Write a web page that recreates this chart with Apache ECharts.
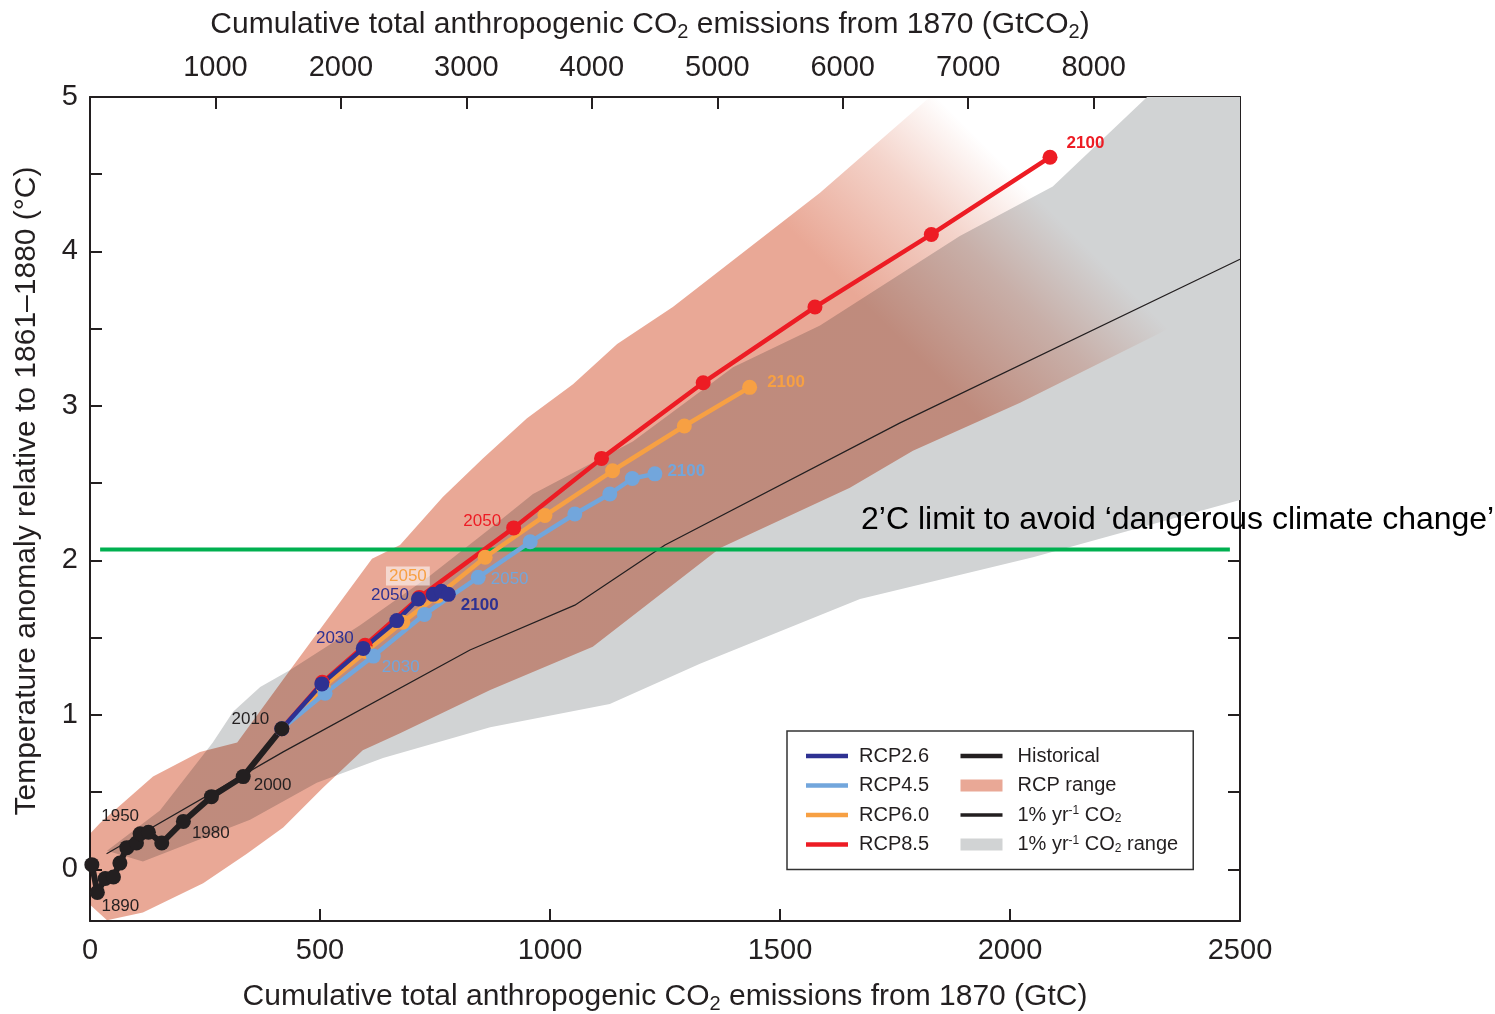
<!DOCTYPE html>
<html>
<head>
<meta charset="utf-8">
<title>Cumulative CO2 emissions and warming</title>
<script src="https://cdn.jsdelivr.net/npm/echarts@6/dist/echarts.min.js"></script>
<style>
html, body { margin: 0; padding: 0; background: #fff; }
#chart { width: 1495px; height: 1014px; }
</style>
</head>
<body>
<div id="chart"></div>
<script>
// ---- data (x: cumulative GtC, t: warming in °C) ----
var histX = [4, 16, 33, 51, 65, 80, 101, 109, 127, 156, 203, 264, 333, 417];
var histT = [0.03, -0.15, -0.06, -0.05, 0.04, 0.14, 0.17, 0.23, 0.24, 0.17, 0.31, 0.47, 0.60, 0.91];
var histTags = ['', '1890', '', '', '', '', '', '1950', '', '', '1980', '', '2000', '2010'];

var rcp26X = [417, 504, 594, 667, 714, 746, 764, 779];
var rcp26T = [0.91, 1.20, 1.43, 1.61, 1.75, 1.78, 1.80, 1.78];
var rcp26Tags = ['', '', '2030', '', '2050', '', '', '2100'];

var rcp45X = [417, 511, 616, 727, 844, 957, 1054, 1130, 1179, 1228];
var rcp45T = [0.91, 1.14, 1.38, 1.65, 1.89, 2.12, 2.30, 2.43, 2.53, 2.56];
var rcp45Tags = ['', '', '2030', '', '2050', '', '', '', '', '2100'];

var rcp60X = [417, 507, 600, 680, 755, 859, 989, 1136, 1292, 1434];
var rcp60T = [0.91, 1.18, 1.41, 1.60, 1.77, 2.02, 2.29, 2.58, 2.87, 3.12];
var rcp60Tags = ['', '', '', '', '2050', '', '', '', '', '2100'];

var rcp85X = [417, 505, 598, 716, 921, 1112, 1333, 1576, 1829, 2087];
var rcp85T = [0.91, 1.21, 1.45, 1.76, 2.21, 2.66, 3.15, 3.64, 4.11, 4.61];
var rcp85Tags = ['', '', '', '', '2050', '', '', '', '', '2100'];

// 1% per year CO2 runs, median
var pctX = [36, 420, 826, 1054, 1250, 1761, 2500];
var pctT = [0.10, 0.76, 1.42, 1.71, 2.10, 2.89, 3.95];

// envelope outlines (upper edge left->right, then lower edge right->left)
var rcpRangeX = [0, 22, 137, 239, 320, 435, 613, 674, 767, 854, 950, 1050, 1146, 1267, 1587, 1826, 2000,
                 2428, 2311, 2022, 1789, 1652, 1370, 1093, 870, 674, 593, 507, 420, 341, 246, 115, 37, 0];
var rcpRangeT = [0.23, 0.30, 0.60, 0.76, 0.82, 1.29, 2.01, 2.10, 2.41, 2.66, 2.92, 3.14, 3.40, 3.64, 4.38, 5.0, 5.0,
                 3.63, 3.45, 3.02, 2.71, 2.47, 2.08, 1.44, 1.16, 0.88, 0.77, 0.53, 0.27, 0.10, -0.09, -0.28, -0.33, -0.23];
var pctRangeX = [37, 152, 267, 311, 370, 435, 587, 739, 863, 963, 1180, 1398, 1587, 1891, 2093, 2298, 2500,
                 2500, 2050, 1674, 1326, 1130, 870, 637, 493, 348, 115];
var pctRangeT = [0.12, 0.38, 0.82, 1.02, 1.18, 1.29, 1.58, 1.90, 2.19, 2.43, 2.77, 3.25, 3.52, 4.10, 4.42, 5.0, 5.0,
                 2.39, 2.02, 1.75, 1.33, 1.07, 0.92, 0.72, 0.56, 0.32, 0.05];

// 2°C line
var limitX = [22, 2478];
var limitT = [2.07, 2.07];

// axis ticks / labels
var yTicks = [0, 0.5, 1, 1.5, 2, 2.5, 3, 3.5, 4, 4.5, 5];
var yLabels = [0, 1, 2, 3, 4, 5];
var topTicks = [1000, 2000, 3000, 4000, 5000, 6000, 7000, 8000, 9000];
var topLabels = [1000, 2000, 3000, 4000, 5000, 6000, 7000, 8000];
var GTCO2_PER_GTC = 44 / 12;

// ---- styling ----
var FONT = '"Liberation Sans", Arial, sans-serif';
var INK = '#231f20';
var C26 = '#2e3192', C45 = '#72a6dc', C60 = '#f7a043', C85 = '#ed1c24';

// where the year tags sit relative to their marker
var histPlace = {
  '1890': { position: 'bottom', offset: [23, -7] },
  '1950': { position: 'top', offset: [-20, 4] },
  '1980': { position: 'right', offset: [-4, 12] },
  '2000': { position: 'right', offset: [-2, 9] },
  '2010': { position: 'left', offset: [0, -9] }
};
var rcp26Place = {
  '2030': { position: 'left', offset: [3, -10] },
  '2050': { position: 'left', offset: [3, -4] },
  '2100': { position: 'right', offset: [0, 11], bold: true }
};
var rcp45Place = {
  '2030': { position: 'right', offset: [-4, 11] },
  '2050': { position: 'right', offset: [0, 2] },
  '2100': { position: 'right', offset: [0, -3], bold: true }
};
var rcp60Place = {
  '2050': { position: 'left', offset: [5, -20], bg: true },
  '2100': { position: 'right', offset: [5, -5], bold: true }
};
var rcp85Place = {
  '2050': { position: 'left', offset: [0, -7] },
  '2100': { position: 'right', offset: [4, -14], bold: true }
};

function pts(xs, ys) {
  return xs.map(function (x, i) { return [x, ys[i]]; });
}

function tagged(xs, ys, tags, place, color) {
  return xs.map(function (x, i) {
    var item = { value: [x, ys[i]] };
    var t = tags[i];
    if (t) {
      var p = place[t];
      item.label = {
        show: true, formatter: t, position: p.position, offset: p.offset,
        color: color, fontSize: 17, fontFamily: FONT,
        fontWeight: p.bold ? 'bold' : 'normal'
      };
      if (p.bg) {
        item.label.backgroundColor = 'rgba(255,255,255,0.55)';
        item.label.padding = [1, 3];
      }
    }
    return item;
  });
}

// polygon drawn through the cartesian scales
function envelope(xs, ys, fill) {
  return function (params, api) {
    var points = xs.map(function (x, i) { return api.coord([x, ys[i]]); });
    return { type: 'polygon', shape: { points: points }, style: { fill: fill } };
  };
}

function rcpLine(name, xs, ys, tags, place, color) {
  return {
    name: name, type: 'line',
    data: tagged(xs, ys, tags, place, color),
    symbol: 'circle', symbolSize: 15,
    lineStyle: { color: color, width: 4.5 },
    itemStyle: { color: color },
    emphasis: { disabled: true }
  };
}

// the RCP envelope fades out towards the upper right (diagonal, canvas pixels)
var salmonFade = {
  type: 'linear', global: true, x: 500, y: 500, x2: 1000, y2: 0,
  colorStops: [
    { offset: 0, color: 'rgba(233,168,150,1)' },
    { offset: 0.56, color: 'rgba(233,168,150,1)' },
    { offset: 0.72, color: 'rgba(233,168,150,0.5)' },
    { offset: 0.84, color: 'rgba(233,168,150,0)' }
  ]
};

var subRich = { s: { fontSize: 20, lineHeight: 16, verticalAlign: 'bottom', fontFamily: FONT, color: INK } };
var nameStyle = { fontSize: 30, color: INK, lineHeight: 35, fontFamily: FONT, rich: subRich };
var topNameStyle = { fontSize: 30, color: INK, lineHeight: 35, fontFamily: FONT, rich: subRich, padding: [0, 30, 0, 0] };
var yNameStyle = { fontSize: 30, color: INK, lineHeight: 35, fontFamily: FONT, padding: [0, 0, 0, 36] };
var axisLineStyle = { onZero: false, lineStyle: { color: INK, width: 2 } };
var tickStyle = { inside: true, length: 12, lineStyle: { color: INK, width: 2 } };
function plain(v) { return String(v); }

var lineIcon = 'path://M0,0h42v4.5h-42z';
var thinIcon = 'path://M0,0h42v3.5h-42z';
var legendText = {
  '1% CO2': '1% yr{sup|-1} CO{sub|2}',
  '1% CO2 range': '1% yr{sup|-1} CO{sub|2} range'
};
var col2Text = { padding: [0, 0, 0, 10] };

var chart = echarts.init(document.getElementById('chart'));
var option = {
  animation: false,
  backgroundColor: '#fff',
  textStyle: { fontFamily: FONT },
  title: {
    text: '2’C limit to avoid ‘dangerous climate change’',
    left: 856, top: 499,
    textStyle: { fontSize: 32, fontWeight: 'normal', color: '#000', fontFamily: FONT }
  },
  grid: { left: 90, right: 255, top: 97, bottom: 93, outerBoundsMode: 'none', containLabel: false },
  xAxis: [
    {
      type: 'value', position: 'bottom', min: 0, max: 2500, interval: 500,
      name: 'Cumulative total anthropogenic CO{s|2} emissions from 1870 (GtC)',
      nameLocation: 'middle', nameGap: 58, nameTextStyle: nameStyle,
      axisLine: axisLineStyle, axisTick: tickStyle,
      axisLabel: { fontSize: 29, color: INK, margin: 15, formatter: plain },
      splitLine: { show: false }
    },
    {
      type: 'value', position: 'top', min: 0, max: 2500 * GTCO2_PER_GTC,
      name: 'Cumulative total anthropogenic CO{s|2} emissions from 1870 (GtCO{s|2})',
      nameLocation: 'middle', nameGap: 55, nameTextStyle: topNameStyle,
      axisLine: axisLineStyle,
      axisTick: { inside: true, length: 12, lineStyle: { color: INK, width: 2 }, customValues: topTicks },
      axisLabel: { fontSize: 29, color: INK, margin: 15, customValues: topLabels, formatter: plain },
      splitLine: { show: false }
    }
  ],
  yAxis: [
    {
      type: 'value', position: 'left', min: -0.335, max: 5,
      name: 'Temperature anomaly relative to 1861–1880 (°C)',
      nameLocation: 'middle', nameGap: 46, nameTextStyle: yNameStyle,
      axisLine: axisLineStyle,
      axisTick: { inside: true, length: 12, lineStyle: { color: INK, width: 2 }, customValues: yTicks },
      axisLabel: { fontSize: 29, color: INK, margin: 12, customValues: yLabels, formatter: plain },
      splitLine: { show: false }
    },
    {
      type: 'value', position: 'right', min: -0.335, max: 5,
      axisLine: axisLineStyle,
      axisTick: { inside: true, length: 12, lineStyle: { color: INK, width: 2 }, customValues: yTicks },
      axisLabel: { show: false },
      splitLine: { show: false }
    }
  ],
  legend: {
    orient: 'vertical', left: 787, top: 731, height: 110,
    padding: [15, 15, 15, 19], itemGap: 9.5,
    itemWidth: 42, itemHeight: 12, symbolKeepAspect: true,
    selectedMode: false,
    borderColor: '#333', borderWidth: 1.5, backgroundColor: '#fff',
    itemStyle: { borderWidth: 0 },
    textStyle: {
      fontSize: 20, color: INK, lineHeight: 20, padding: [0, 0, 0, 6], fontFamily: FONT,
      rich: {
        sup: { fontSize: 12, lineHeight: 12, verticalAlign: 'top', color: INK, fontFamily: FONT },
        sub: { fontSize: 12, lineHeight: 12, verticalAlign: 'bottom', color: INK, fontFamily: FONT }
      }
    },
    formatter: function (name) { return legendText[name] || name; },
    data: [
      { name: 'RCP2.6', icon: lineIcon, textStyle: { width: 92 } },
      { name: 'RCP4.5', icon: lineIcon, textStyle: { width: 92 } },
      { name: 'RCP6.0', icon: lineIcon, textStyle: { width: 92 } },
      { name: 'RCP8.5', icon: lineIcon, textStyle: { width: 92 } },
      { name: 'Historical', icon: lineIcon, textStyle: col2Text },
      { name: 'RCP range', icon: 'rect', textStyle: col2Text },
      { name: '1% CO2', icon: thinIcon, textStyle: col2Text },
      { name: '1% CO2 range', icon: 'rect', textStyle: col2Text }
    ]
  },
  series: [
    {
      name: '1% CO2 range', type: 'custom', silent: true,
      renderItem: envelope(pctRangeX, pctRangeT, '#d1d3d4'),
      data: [[0, 0]], itemStyle: { color: '#d1d3d4' }
    },
    {
      name: 'RCP range', type: 'custom', silent: true, blendMode: 'multiply',
      renderItem: envelope(rcpRangeX, rcpRangeT, salmonFade),
      data: [[0, 0]], itemStyle: { color: '#e9a896' }
    },
    {
      name: '1% CO2', type: 'line', silent: true,
      data: pts(pctX, pctT), symbol: 'none',
      lineStyle: { color: INK, width: 1.2 }, itemStyle: { color: INK }
    },
    {
      name: '2C limit', type: 'line', silent: true,
      data: pts(limitX, limitT), symbol: 'none',
      lineStyle: { color: '#00b050', width: 4 }, itemStyle: { color: '#00b050' }
    },
    rcpLine('RCP8.5', rcp85X, rcp85T, rcp85Tags, rcp85Place, C85),
    rcpLine('RCP6.0', rcp60X, rcp60T, rcp60Tags, rcp60Place, C60),
    rcpLine('RCP4.5', rcp45X, rcp45T, rcp45Tags, rcp45Place, C45),
    rcpLine('RCP2.6', rcp26X, rcp26T, rcp26Tags, rcp26Place, C26),
    {
      name: 'Historical', type: 'line',
      data: tagged(histX, histT, histTags, histPlace, INK),
      symbol: 'circle', symbolSize: 15,
      lineStyle: { color: INK, width: 6 }, itemStyle: { color: INK },
      emphasis: { disabled: true }
    }
  ]
};
chart.setOption(option);
</script>
</body>
</html>
